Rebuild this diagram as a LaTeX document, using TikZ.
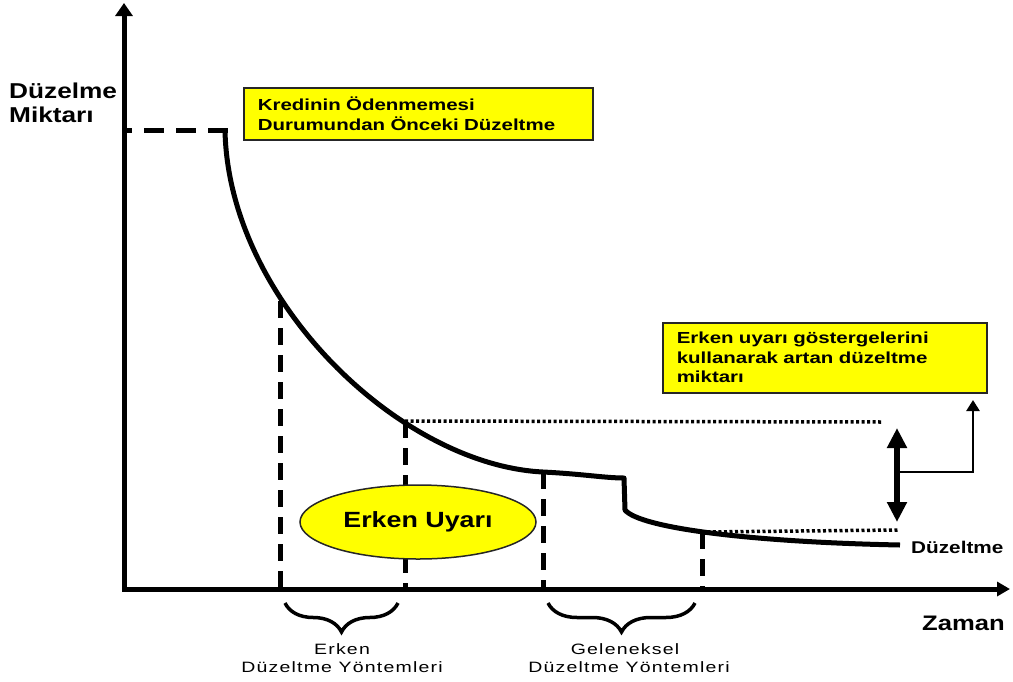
\documentclass[tikz,border=0pt]{standalone}
\usepackage{fontspec}
\setmainfont{Liberation Sans}
\newfontfamily\wide{Liberation Sans}[FakeStretch=1.22]
\newfontfamily\boxfont{Liberation Sans}[FakeStretch=1.28]
\newfontfamily\wider{Liberation Sans}[FakeStretch=1.3,LetterSpace=8]
\usetikzlibrary{arrows.meta,shapes.geometric,decorations.pathreplacing}
\definecolor{yel}{RGB}{255,255,0}
\tikzset{
 axisline/.style={line width=5pt},
 curveline/.style={line width=5pt, line join=round},
 dashv/.style={line width=5pt, dash pattern=on 17pt off 10pt},
 dashh/.style={line width=5pt, dash pattern=on 20pt off 12pt, dash phase=12pt},
 dotl/.style={line width=3.5pt, dash pattern=on 3pt off 2.5pt},
 ybox/.style={draw=black!85, line width=1.5pt, fill=yel, inner xsep=14pt, inner ysep=0pt, align=left, anchor=north west, font=\boxfont\bfseries\fontsize{16}{19.5}\selectfont},
 lbl/.style={inner sep=0pt, anchor=base west},
 clbl/.style={inner sep=0pt, anchor=base, font=\wider\fontsize{15}{18}\selectfont},
 brc/.style={decorate, decoration={brace,mirror,amplitude=29pt}, line width=3.5pt},
}
\begin{document}
\begin{tikzpicture}[x=1pt,y=-1pt]
\useasboundingbox (0,0) rectangle (1013,681);
% axes
\coordinate (o) at (124,589);
\coordinate (ytop) at (124,3);
\coordinate (xend) at (1010,589);
\draw[axisline, -{Triangle[length=13pt,width=17pt]}] (124,591) -- (ytop);
\draw[axisline, -{Triangle[length=13pt,width=14pt]}] (122,589) -- (xend);
% key points on the curve
\coordinate (s) at (225,130);
\coordinate (c1) at (280,301);
\coordinate (c2) at (405,421);
\coordinate (c3) at (543,472);
\coordinate (c4) at (702,532);
\coordinate (k1) at (624,478);
\coordinate (k2) at (625,510);
\coordinate (cend) at (900,545);
% dashed start level
\draw[dashh] (o |- s) -- (228,130);
% main curve
\draw[curveline] (s) .. controls (228,300) and (400,465) .. (c3)
  .. controls (583,474) and (605,478) .. (k1) -- (k2)
  .. controls (640,528) and (750,542) .. (cend);
% dashed verticals
\draw[dashv] (c1) -- (c1 |- o);
\draw[dashv] (c2) -- (c2 |- o);
\draw[dashv] (c3) -- (c3 |- o);
\draw[dashv] (c4) -- (c4 |- o);
% dotted levels
\coordinate (d1) at (883,422);
\coordinate (d2) at (898,530);
\draw[dotl] (c2) -- (d1);
\draw[dotl] (c4) -- (d2);
% double arrow
\coordinate (a1) at (897,428);
\coordinate (a2) at (897,522);
\draw[line width=6pt, {Triangle[length=20pt,width=19pt]}-{Triangle[length=20pt,width=19pt]}] (a1) -- (a2);
\coordinate (m) at (897,472);
\coordinate (t) at (973,400);
\draw[line width=2.5pt, -{Triangle[length=11pt,width=13pt]}] (m) -| (t);
% boxes
\node[ybox, text width=321pt, minimum height=52pt] (b1) at (243,87) {Kredinin Ödenmemesi\\Durumundan Önceki Düzeltme};
\node[ybox, text width=296pt, minimum height=70pt] (b2) at (662,322) {Erken uyarı göstergelerini\\kullanarak artan düzeltme\\miktarı};
\node[ellipse, draw=black!85, line width=1.5pt, fill=yel, minimum width=236pt, minimum height=74pt, inner sep=0pt, font=\wide\bfseries\fontsize{22}{26}\selectfont] (e) at (418,522) {Erken Uyarı};
% labels
\node[inner sep=0pt, anchor=north west, align=left, font=\wide\bfseries\fontsize{21.5}{24}\selectfont] (yl) at (9,82.5) {Düzelme\\Miktarı};
\node[lbl, font=\wide\bfseries\fontsize{17}{20}\selectfont] (dz) at (911,553) {Düzeltme};
\node[lbl, font=\wide\bfseries\fontsize{21}{24}\selectfont] (zm) at (922,630) {Zaman};
% braces
\coordinate (br1a) at (285,603);
\coordinate (br1b) at (398,603);
\coordinate (br2a) at (548,603);
\coordinate (br2b) at (695,603);
\draw[brc] (br1a) -- (br1b);
\draw[brc] (br2a) -- (br2b);
\node[clbl] (e1) at (342,654) {Erken};
\node[clbl] (e2) at (342,672) {Düzeltme Yöntemleri};
\node[clbl] (g1) at (625,654) {Geleneksel};
\node[clbl] (g2) at (629,672) {Düzeltme Yöntemleri};
\end{tikzpicture}
\end{document}
